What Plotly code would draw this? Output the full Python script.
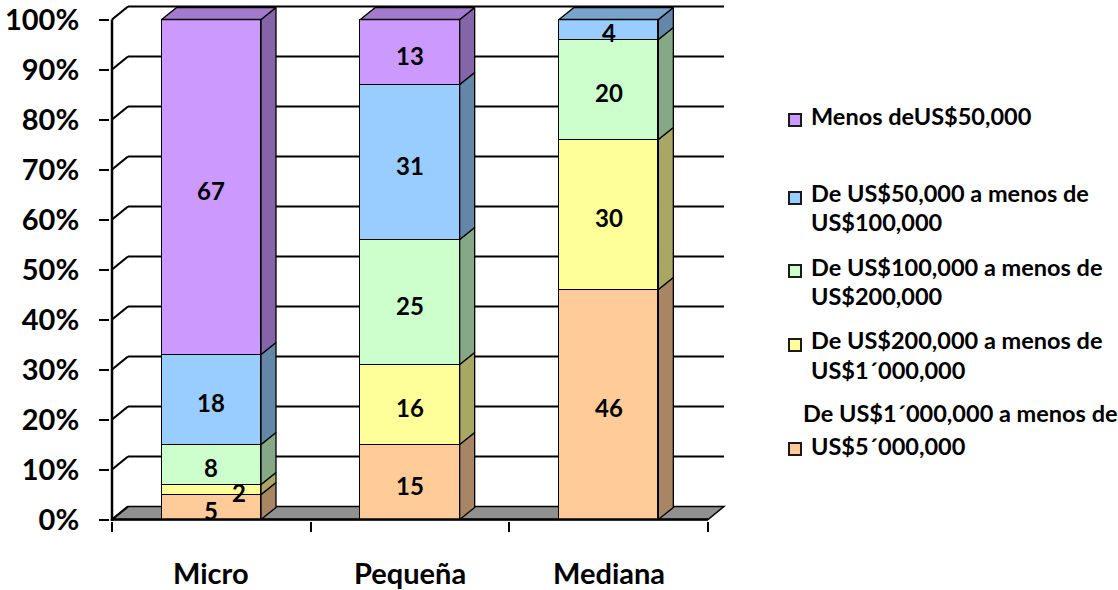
import plotly.graph_objects as go

# ---- data -------------------------------------------------------------
categories = ["Micro", "Pequeña", "Mediana"]
tramo_1m_5m = [5, 15, 46]
tramo_200k_1m = [2, 16, 30]
tramo_100k_200k = [8, 25, 20]
tramo_50k_100k = [18, 31, 4]
tramo_menos_50k = [67, 13, 0]
y_tick_values = [0, 10, 20, 30, 40, 50, 60, 70, 80, 90, 100]
y_tick_labels = [f"{v}%" for v in y_tick_values]

series_names = [
    "De US$1´000,000 a menos de<br>US$5´000,000",
    "De US$200,000 a menos de<br>US$1´000,000",
    "De US$100,000 a menos de<br>US$200,000",
    "De US$50,000 a menos de<br>US$100,000",
    "Menos deUS$50,000",
]
series_values = [tramo_1m_5m, tramo_200k_1m, tramo_100k_200k, tramo_50k_100k, tramo_menos_50k]
series_colors = ["#FFCC99", "#FFFF99", "#CCFFCC", "#99CCFF", "#CC99FF"]

# ---- geometry ---------------------------------------------------------
FIG_W, FIG_H = 1118, 590
PLOT_L, PLOT_R, PLOT_T, PLOT_B = 110, 726, 2, 521
FRONT_X_PX, ZERO_Y_PX = 112, 519.5
X_UNIT = 198.67          # px per category
Y_UNIT = 5.0             # px per percentage point
X_RANGE = [-0.5 - (FRONT_X_PX - PLOT_L) / X_UNIT, -0.5 + (PLOT_R - FRONT_X_PX) / X_UNIT]
Y_RANGE = [-(PLOT_B - ZERO_Y_PX) / Y_UNIT, (ZERO_Y_PX - PLOT_T) / Y_UNIT]
BAR_W = 0.5
BAR_DX, BAR_DY = 15 / X_UNIT, 12 / Y_UNIT
WALL_DX, WALL_DY = 16 / X_UNIT, 13 / Y_UNIT
FONT = "Lato"
INK = "#000000"


def shade(hex_color, k):
    h = hex_color.lstrip("#")
    r, g, b = (int(h[i:i + 2], 16) for i in (0, 2, 4))
    return "#{:02X}{:02X}{:02X}".format(int(r * k), int(g * k), int(b * k))


def px_x(px):
    return (px - PLOT_L) / (PLOT_R - PLOT_L)


def px_y(py):
    return (PLOT_B - py) / (PLOT_B - PLOT_T)


fig = go.Figure()
x_pos = list(range(len(categories)))

# front faces of the stacked bars
for name, vals, col in zip(series_names, series_values, series_colors):
    fig.add_trace(go.Bar(
        x=x_pos, y=vals, name=name, width=BAR_W, showlegend=False,
        marker=dict(color=col, line=dict(color=INK, width=1.5)),
        hoverinfo="skip",
    ))

# side and top faces (depth of each bar)
bases = [0] * len(categories)
tops = [sum(v[i] for v in series_values) for i in range(len(categories))]
for vals, col in zip(series_values, series_colors):
    for i, v in enumerate(vals):
        if v <= 0:
            continue
        y0, y1 = bases[i], bases[i] + v
        xr = x_pos[i] + BAR_W / 2
        fig.add_trace(go.Scatter(
            x=[xr, xr + BAR_DX, xr + BAR_DX, xr, xr],
            y=[y0, y0 + BAR_DY, y1 + BAR_DY, y1, y0],
            mode="lines", fill="toself", fillcolor=shade(col, 0.66),
            line=dict(color=INK, width=1.3), showlegend=False, hoverinfo="skip",
        ))
        if y1 == tops[i]:
            xl = x_pos[i] - BAR_W / 2
            fig.add_trace(go.Scatter(
                x=[xl, xl + BAR_DX, xr + BAR_DX, xr, xl],
                y=[y1, y1 + BAR_DY, y1 + BAR_DY, y1, y1],
                mode="lines", fill="toself", fillcolor=shade(col, 0.8),
                line=dict(color=INK, width=1.3), showlegend=False, hoverinfo="skip",
            ))
        bases[i] = y1

shapes = []
# floor
x_first, x_last = -0.5, len(categories) - 0.5
shapes.append(dict(
    type="path", layer="below", xref="x", yref="y",
    path=f"M{x_first},0 L{x_last},0 L{x_last + WALL_DX},{WALL_DY} L{x_first + WALL_DX},{WALL_DY} Z",
    fillcolor="#909090", line=dict(color=INK, width=1.5),
))
# back wall gridlines and side wall diagonals
for v in y_tick_values:
    if v > 0:
        shapes.append(dict(type="line", layer="below", xref="x", yref="y",
                           x0=x_first + WALL_DX, x1=x_last + WALL_DX,
                           y0=v + WALL_DY, y1=v + WALL_DY,
                           line=dict(color=INK, width=2.2)))
    shapes.append(dict(type="line", layer="below", xref="x", yref="y",
                       x0=x_first, x1=x_first + WALL_DX, y0=v, y1=v + WALL_DY,
                       line=dict(color=INK, width=2.2)))
# front axis lines
shapes.append(dict(type="line", xref="x", yref="y", x0=x_first, x1=x_first,
                   y0=Y_RANGE[0], y1=100, line=dict(color=INK, width=2.5)))
shapes.append(dict(type="line", xref="x", yref="y", x0=x_first, x1=x_last,
                   y0=0, y1=0, line=dict(color=INK, width=2.5)))

annotations = []
# value labels
bases = [0] * len(categories)
for vals in series_values:
    for i, v in enumerate(vals):
        if v <= 0:
            continue
        mid = bases[i] + v / 2
        small = v < 3
        annotations.append(dict(
            x=x_pos[i], y=mid, xref="x", yref="y", text=str(v), showarrow=False,
            xshift=28 if small else 0, yshift=-3,
            font=dict(family=FONT, size=24, color=INK, weight="bold"),
        ))
        bases[i] += v

# category labels
for i, c in enumerate(categories):
    annotations.append(dict(
        x=x_pos[i], y=px_y(572), xref="x", yref="paper", text=c, showarrow=False,
        yanchor="middle", xanchor="center",
        font=dict(family=FONT, size=29, color=INK, weight="bold"),
    ))

# legend (drawn top to bottom)
legend_lines = [
    # (series index, [(text, left px, centre y px)], marker centre y px)
    (4, [("Menos deUS$50,000", 809, 116)], 120),
    (3, [("De US$50,000 a menos de", 809, 193), ("US$100,000", 809, 222)], 198),
    (2, [("De US$100,000 a menos de", 809, 267), ("US$200,000", 809, 296)], 271),
    (1, [("De US$200,000 a menos de", 809, 340), ("US$1´000,000", 809, 370)], 345),
    (0, [("De US$1´000,000 a menos de", 801, 413), ("US$5´000,000", 809, 446)], 449),
]
for idx, lines, my in legend_lines:
    for text, lx, ly in lines:
        annotations.append(dict(
            x=px_x(lx), y=px_y(ly), xref="paper", yref="paper", text=text,
            showarrow=False, xanchor="left", yanchor="middle",
            font=dict(family=FONT, size=23.5, color=INK, weight="bold"),
        ))
    shapes.append(dict(
        type="rect", xref="paper", yref="paper",
        x0=px_x(789), x1=px_x(801), y0=px_y(my + 6), y1=px_y(my - 6),
        fillcolor=series_colors[idx], line=dict(color="#1A1A1A", width=2),
    ))

fig.update_layout(
    width=FIG_W, height=FIG_H, autosize=False,
    margin=dict(l=PLOT_L, r=FIG_W - PLOT_R, t=PLOT_T, b=FIG_H - PLOT_B, pad=0),
    paper_bgcolor="white", plot_bgcolor="white",
    barmode="stack", bargap=0,
    shapes=shapes, annotations=annotations,
    xaxis=dict(range=X_RANGE, tickvals=[x_first + k for k in range(len(categories) + 1)],
               ticktext=[""] * (len(categories) + 1), ticks="outside", ticklen=10,
               tickwidth=2.2, tickcolor=INK, showgrid=False, zeroline=False,
               showline=False, automargin=False, fixedrange=True),
    yaxis=dict(range=Y_RANGE, tickvals=y_tick_values, ticktext=y_tick_labels,
               ticks="outside", ticklen=10, tickwidth=2.2, tickcolor=INK,
               ticklabelstandoff=14, showgrid=False, zeroline=False, showline=False,
               automargin=False, fixedrange=True,
               tickfont=dict(family=FONT, size=29, color=INK, weight="bold")),
)

fig.write_html("out.html")
